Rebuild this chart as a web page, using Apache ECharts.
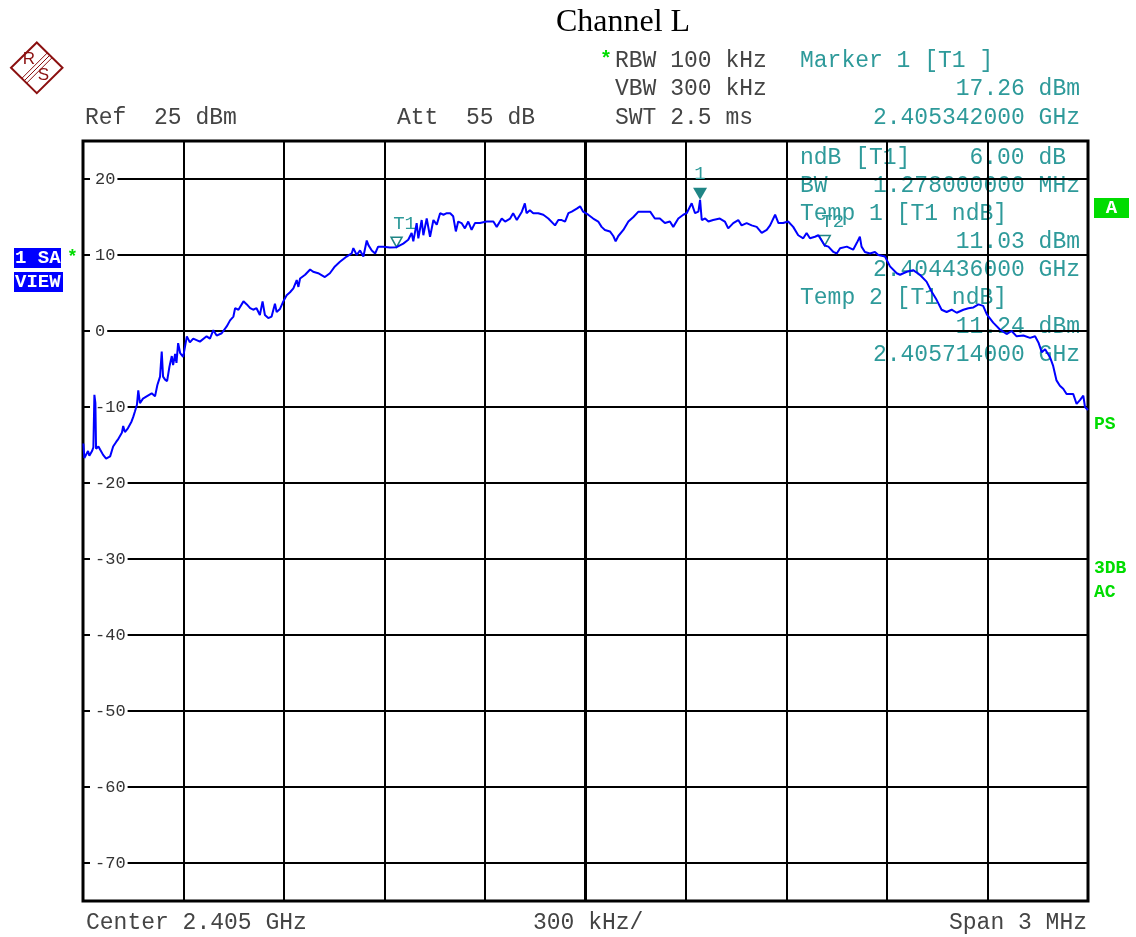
<!DOCTYPE html>
<html><head><meta charset="utf-8">
<script src="https://cdn.jsdelivr.net/npm/echarts@6/dist/echarts.min.js"></script>
<style>html,body{margin:0;padding:0;background:#fff}#c{width:1136px;height:937px}</style>
</head><body><div id="c"></div>
<script>
// Frequency offsets in kHz above the start frequency 2.4035 GHz (span 3 MHz)
const freqOffsetKHz = [1,4,9,15,19,27,31,34,37,39,46,51,60,69,81,90,99,104,116,120,
125,134,145,150,155,161,165,170,179,190,205,215,222,230,235,239,245,251,258,265,
269,275,279,284,290,299,310,319,329,349,369,379,389,399,414,429,439,449,454,464,
479,489,499,508,518,528,536,543,553,563,573,578,588,598,608,618,628,638,643,648,
663,678,687,702,722,737,752,767,787,802,807,817,827,837,847,852,862,872,881,896,
916,936,956,971,981,986,996,1001,1011,1016,1026,1036,1046,1056,1066,1076,1086,1096,1105,1113,
1120,1130,1140,1150,1160,1170,1185,1205,1225,1235,1250,1260,1275,1284,1295,1310,1319,1324,1334,1344,
1359,1374,1389,1409,1419,1429,1439,1449,1459,1474,1484,1493,1508,1523,1538,1548,1558,1573,1583,1590,
1598,1613,1628,1643,1658,1673,1693,1707,1722,1737,1752,1762,1777,1792,1802,1817,1827,1837,1842,1847,
1857,1867,1881,1901,1916,1926,1941,1956,1966,1981,1996,2011,2026,2041,2051,2066,2076,2090,2105,2120,
2135,2150,2160,2170,2185,2195,2214,2225,2240,2250,2260,2280,2299,2310,2319,2324,2334,2349,2364,2374,
2394,2409,2429,2439,2459,2478,2498,2518,2533,2548,2563,2578,2593,2608,2628,2643,2658,2673,2687,2698,
2717,2737,2757,2772,2787,2807,2827,2842,2852,2862,2872,2887,2896,2906,2916,2926,2936,2946,2956,2966,
2976,2986,2991,3000];
// Trace level in dBm
const levelDBm = [-14.8,-16.7,-16.5,-15.8,-16.4,-15.8,-15.3,-8.4,-9.5,-15.5,
-15.2,-15.6,-16.3,-16.8,-16.5,-15.2,-14.6,-14.3,-13.4,-12.5,
-13.3,-12.8,-11.9,-11.3,-10.6,-9.7,-7.8,-9.5,-8.9,-8.6,
-8.2,-8.6,-7.1,-6.0,-2.7,-6.0,-6.4,-6.6,-4.7,-3.3,
-4.5,-3.0,-4.2,-1.6,-2.9,-3.4,-0.7,-1.5,-1.0,-1.4,
-0.7,-1.0,0.1,-0.6,-0.3,0.6,1.4,1.9,3.0,2.8,
3.9,3.5,3.0,2.8,3.0,2.1,3.9,2.1,1.7,1.9,
3.6,2.5,2.9,3.9,4.7,5.1,5.6,6.7,5.8,6.9,
7.4,8.1,7.8,7.6,7.1,7.6,8.5,9.1,9.8,10.2,
10.9,10.0,10.6,9.8,11.9,11.3,10.6,10.2,11.1,11.1,
11.0,11.03,11.5,12.0,12.9,11.8,14.2,12.2,14.6,12.6,
14.8,12.4,14.6,14.0,15.5,15.3,15.5,15.5,15.1,13.1,
14.4,14.2,13.5,14.4,13.3,14.2,14.2,14.4,14.4,13.7,
14.8,14.4,14.8,15.5,14.6,15.7,16.8,15.5,15.9,15.5,
15.5,15.3,14.8,13.9,14.6,14.6,14.4,15.5,15.7,16.1,
16.4,15.7,15.3,14.8,14.4,13.7,13.3,13.1,12.5,11.8,
12.5,13.3,14.4,15.0,15.7,15.7,15.7,14.8,14.8,14.2,
14.4,13.7,14.8,15.3,15.5,16.8,15.5,15.7,17.26,14.6,
14.8,14.4,14.6,14.8,14.4,13.5,14.2,14.6,13.9,14.2,
13.9,13.7,12.9,13.3,13.9,15.3,14.2,14.2,14.4,13.7,
12.6,12.2,12.9,12.2,12.4,12.6,11.24,11.1,10.4,10.2,
10.9,11.1,10.7,11.6,12.4,11.1,10.4,10.2,10.4,10.0,
9.8,8.5,7.6,7.4,7.8,8.0,7.4,6.5,5.2,4.1,
2.8,2.5,2.8,2.4,2.8,3.0,3.1,3.5,3.3,2.2,
1.1,0.2,-0.4,0.0,-0.7,-0.6,-0.9,-0.7,-1.5,-2.8,
-2.4,-3.5,-4.6,-6.5,-7.2,-7.6,-8.3,-8.3,-8.3,-9.6,
-9.1,-8.5,-10.0,-10.4];
const yTickValues = [20,10,0,-10,-20,-30,-40,-50,-60,-70];
const markerNames = ['1','T1','T2'];
const markerFreqKHz = [1842, 936, 2214];
const markerLevel = [17.26, 11.03, 11.24];

const MONO = "'Liberation Mono','DejaVu Sans Mono',monospace";
const GRAY = '#444444', TEAL = '#2e9a9a', TEALD = '#1f8585', GREEN = '#00dc00', RED = '#8b1010';

function T(x, y, s, color, opt) {
  opt = opt || {};
  const al = opt.align || 'left';
  return { type: 'text', x: x, y: y, z: opt.z !== undefined ? opt.z : 20, silent: true,
    style: { text: s, fill: color, font: (opt.weight || 'normal') + ' ' + (opt.size || 23) + 'px ' + (opt.family || MONO),
      textAlign: al, align: al, textVerticalAlign: 'middle', verticalAlign: 'middle' } };
}

const c = 37, cy = 68, h = 12.7, o = 2.4;
const logoLines = [-1, 0, 1].map(k => ({ type: 'line', silent: true, z: 20,
  shape: { x1: c + h + k * o, y1: cy - h + k * o, x2: c - h + k * o, y2: cy + h + k * o },
  style: { stroke: RED, lineWidth: 1 } }));

const elements = [
  T(623, 23, 'Channel L', '#000', { align: 'center', size: 32, family: "'Liberation Serif','DejaVu Serif',serif" }),
  { type: 'polygon', silent: true, z: 20, shape: { points: [[36.8, 42.5], [62.5, 67.8], [36.8, 93.2], [11, 67.8]] },
    style: { fill: 'none', stroke: RED, lineWidth: 2 } },
  ...logoLines,
  T(29, 59.5, 'R', RED, { align: 'center', size: 17, family: "'Liberation Sans',sans-serif" }),
  T(43.5, 75.5, 'S', RED, { align: 'center', size: 17, family: "'Liberation Sans',sans-serif" }),
  T(85, 118, 'Ref  25 dBm', GRAY),
  T(397, 118, 'Att  55 dB', GRAY),
  T(600, 60, '*', GREEN, { size: 20, weight: 'bold' }),
  T(615, 61, 'RBW 100 kHz', GRAY),
  T(615, 89, 'VBW 300 kHz', GRAY),
  T(615, 118, 'SWT 2.5 ms', GRAY),
  T(800, 61, 'Marker 1 [T1 ]', TEAL),
  T(1080, 89, '17.26 dBm', TEAL, { align: 'right' }),
  T(1080, 118, '2.405342000 GHz', TEAL, { align: 'right' }),
  T(800, 158, 'ndB [T1]', TEAL, { z: -5 }),
  T(1066, 158, '6.00 dB', TEAL, { align: 'right', z: -5 }),
  T(800, 186, 'BW', TEAL, { z: -5 }),
  T(1080, 186, '1.278000000 MHz', TEAL, { align: 'right', z: -5 }),
  T(800, 214, 'Temp 1 [T1 ndB]', TEAL, { z: -5 }),
  T(1080, 242, '11.03 dBm', TEAL, { align: 'right', z: -5 }),
  T(1080, 270, '2.404436000 GHz', TEAL, { align: 'right', z: -5 }),
  T(800, 298, 'Temp 2 [T1 ndB]', TEAL, { z: -5 }),
  T(1080, 327, '11.24 dBm', TEAL, { align: 'right', z: -5 }),
  T(1080, 355, '2.405714000 GHz', TEAL, { align: 'right', z: -5 }),
  T(86, 923, 'Center 2.405 GHz', GRAY),
  T(533, 923, '300 kHz/', GRAY),
  T(1087, 923, 'Span 3 MHz', GRAY, { align: 'right' }),
  { type: 'rect', silent: true, z: 20, shape: { x: 14, y: 248, width: 47, height: 20 }, style: { fill: '#0000ff' } },
  T(15, 258.5, '1 SA', '#fff', { size: 19, weight: 'bold' }),
  { type: 'rect', silent: true, z: 20, shape: { x: 14, y: 272, width: 49, height: 20 }, style: { fill: '#0000ff' } },
  T(15, 282.5, 'VIEW', '#fff', { size: 19, weight: 'bold' }),
  T(67, 257, '*', GREEN, { size: 18, weight: 'bold' }),
  { type: 'rect', silent: true, z: 20, shape: { x: 1094, y: 198, width: 35, height: 20 }, style: { fill: GREEN } },
  T(1111.5, 208.5, 'A', '#fff', { align: 'center', size: 19, weight: 'bold' }),
  T(1094, 424, 'PS', GREEN, { size: 18, weight: 'bold' }),
  T(1094, 568, '3DB', GREEN, { size: 18, weight: 'bold' }),
  T(1094, 592, 'AC', GREEN, { size: 18, weight: 'bold' })
];

const markData = markerNames.map((n, i) => {
  const filled = n === '1';
  return {
    name: n, coord: [markerFreqKHz[i], markerLevel[i]],
    symbol: filled ? 'path://M0,0L14,0L7,12Z' : 'path://M0,0L10,0L5,9Z',
    symbolSize: filled ? [14, 12] : [11, 10],
    symbolOffset: [0, filled ? -6 : -5],
    itemStyle: filled ? { color: TEALD } : { color: 'rgba(0,0,0,0)', borderColor: TEALD, borderWidth: 1.5 },
    label: { show: true, position: 'top', distance: filled ? 4 : 3, offset: filled ? [0, 0] : [8, 0],
      formatter: n, color: TEAL, fontFamily: MONO, fontSize: 19 }
  };
});

const chart = echarts.init(document.getElementById('c'), null, { renderer: 'canvas' });
chart.setOption({
  backgroundColor: '#fff',
  animation: false,
  grid: { left: 83, top: 141, width: 1005, height: 760, show: true, borderColor: '#000', borderWidth: 3, backgroundColor: 'rgba(0,0,0,0)' },
  xAxis: { type: 'value', min: 0, max: 3000, interval: 300,
    axisLine: { show: false }, axisTick: { show: false }, axisLabel: { show: false },
    splitLine: { show: true, lineStyle: { color: '#000', width: 2 } } },
  yAxis: [
    { type: 'value', min: -75, max: 25, interval: 5,
      axisLine: { show: false }, axisTick: { show: false }, axisLabel: { show: false },
      splitLine: { show: true, showMinLine: true, showMaxLine: true, lineStyle: { color: ['rgba(0,0,0,0)', '#000'], width: 2 } } },
    { type: 'value', min: -75, max: 25, interval: 5, position: 'left', z: 6,
      axisLine: { show: false }, axisTick: { show: false }, splitLine: { show: false },
      axisLabel: { inside: true, margin: 7,
        formatter: v => yTickValues.indexOf(v) >= 0 ? '{a|' + v + '}' : '',
        rich: { a: { color: '#333', fontFamily: MONO, fontSize: 17, backgroundColor: '#fff', padding: [1, 2, 0, 5] } } } }
  ],
  graphic: { elements: elements },
  series: [{
    type: 'line', xAxisIndex: 0, yAxisIndex: 0, z: 10,
    data: freqOffsetKHz.map((f, i) => [f, levelDBm[i]]),
    showSymbol: false, symbol: 'none',
    lineStyle: { color: '#0000ff', width: 2 },
    markLine: { silent: true, symbol: 'none', label: { show: false },
      lineStyle: { color: '#000', width: 3, type: 'solid' }, data: [{ xAxis: 1500 }] },
    markPoint: { silent: true, data: markData }
  }]
});
</script>
</body></html>
